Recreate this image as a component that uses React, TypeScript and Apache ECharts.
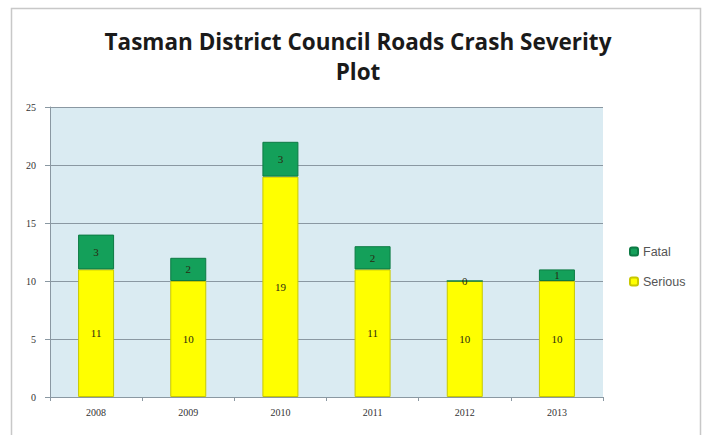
import React, { useEffect, useRef } from "react";
import * as echarts from "echarts";

const years = ["2008", "2009", "2010", "2011", "2012", "2013"];
const serious = [11, 10, 19, 11, 10, 10];
const fatal = [3, 2, 3, 2, 0, 1];
const titleText = "Tasman District Council Roads Crash Severity\nPlot";

export default function App() {
  const ref = useRef<HTMLDivElement>(null);
  useEffect(() => {
    const chart = echarts.init(ref.current!, null, { renderer: "svg" });
    const labelStyle = {
      show: true,
      position: "inside" as const,
      color: "#2a2a10",
      fontSize: 11,
      fontFamily: "Liberation Serif",
    };
    chart.setOption({
      animation: false,
      backgroundColor: "#ffffff",
      title: {
        text: titleText,
        left: 353,
        textAlign: "center",
        top: 21,
        textStyle: {
          fontFamily: "Open Sans",
          fontWeight: "bold",
          fontSize: 22.5,
          lineHeight: 30,
          color: "#1a1a1a",
        },
      },
      graphic: [
        {
          type: "rect",
          shape: { x: 11.5, y: 8.5, width: 689, height: 440 },
          style: { fill: "none", stroke: "#c8c8c8", lineWidth: 1.5 },
          silent: true,
        },
      ],
      legend: {
        orient: "vertical",
        left: 624,
        top: 240,
        itemWidth: 8,
        itemHeight: 8,
        itemGap: 17,
        data: ["Fatal", "Serious"],
        textStyle: { fontSize: 12.5, color: "#555", fontFamily: "Liberation Sans" },
      },
      grid: {
        left: 50,
        top: 107,
        width: 553,
        height: 290,
        show: true,
        backgroundColor: "#daebf2",
        borderWidth: 0,
      },
      xAxis: {
        type: "category",
        data: years,
        axisLine: { show: true, lineStyle: { color: "#8a98a2" } },
        axisTick: { show: true, inside: false, length: 4, lineStyle: { color: "#8a98a2" } },
        axisLabel: { color: "#333", fontSize: 10, fontFamily: "Liberation Serif", margin: 10 },
      },
      yAxis: {
        type: "value",
        min: 0,
        max: 25,
        interval: 5,
        axisLine: { show: true, lineStyle: { color: "#8a98a2" } },
        axisTick: { show: true, length: 5, lineStyle: { color: "#8a98a2" } },
        axisLabel: { color: "#333", fontSize: 10, fontFamily: "Liberation Serif", margin: 14 },
        splitLine: { show: true, lineStyle: { color: "#8a98a2", width: 1 } },
      },
      series: [
        {
          name: "Serious",
          type: "bar",
          stack: "total",
          data: serious,
          barWidth: 36,
          itemStyle: { color: "#ffff00", borderColor: "#c8c800", borderWidth: 1 },
          label: labelStyle,
        },
        {
          name: "Fatal",
          type: "bar",
          stack: "total",
          data: fatal,
          barWidth: 36,
          itemStyle: { color: "#14a05a", borderColor: "#0d7a44", borderWidth: 1 },
          label: labelStyle,
        },
      ],
    });
    return () => chart.dispose();
  }, []);
  return (
    <div
      ref={ref}
      style={{ position: "fixed", left: 0, top: 0, width: 706, height: 435 }}
    />
  );
}
